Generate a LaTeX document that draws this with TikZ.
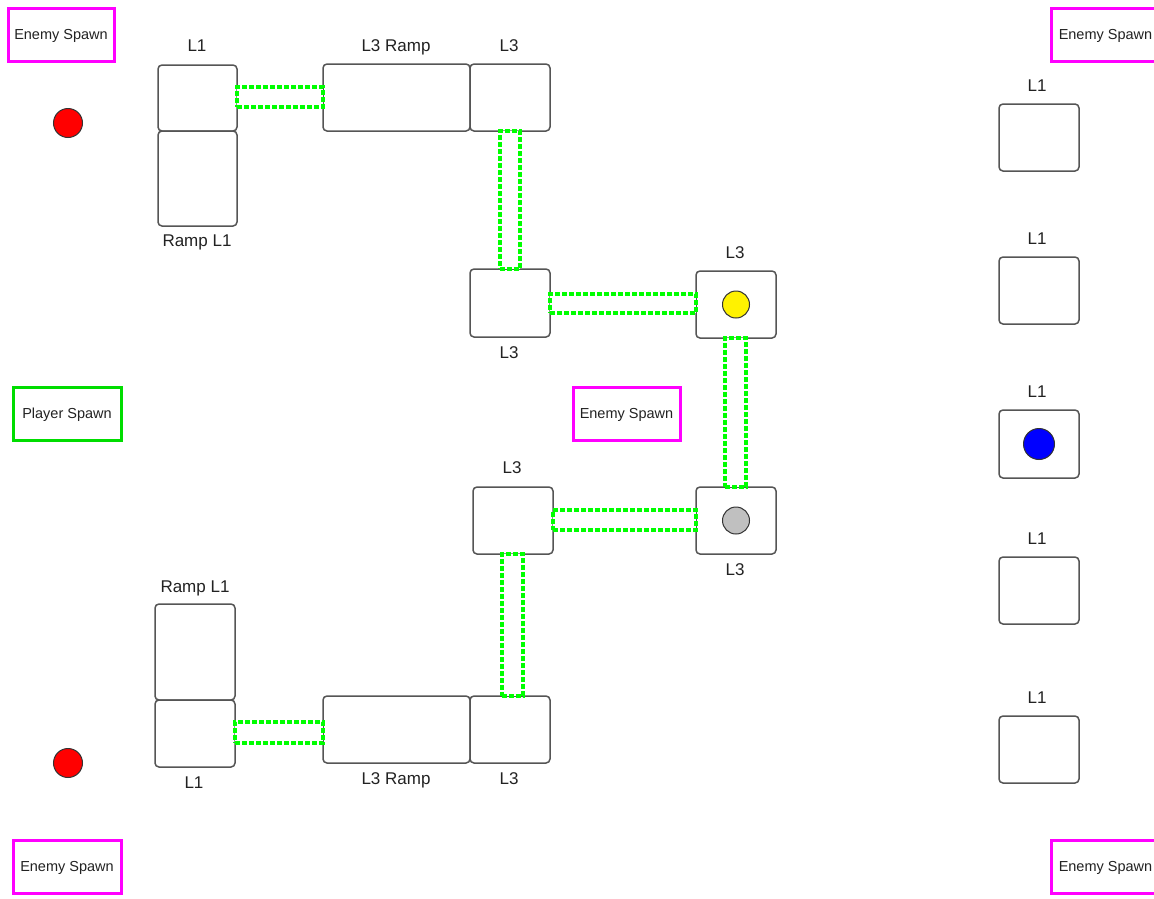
\documentclass[tikz,border=0pt]{standalone}
\usepackage{fontspec}
\setmainfont{Liberation Sans}
\definecolor{boxline}{HTML}{555555}
\definecolor{txt}{HTML}{222222}
\definecolor{bridgegreen}{HTML}{00FF00}
\definecolor{spawnmag}{HTML}{FF00FF}
\definecolor{spawngreen}{HTML}{00DD00}
\definecolor{dotgray}{HTML}{C0C0C0}
\tikzset{
  sz/.style 2 args={minimum width=#1, minimum height=#2, inner sep=0pt, outer sep=0pt},
  room/.style={draw=boxline, line width=1.5pt, fill=white, rounded corners=4pt},
  bridge/.style={draw=bridgegreen, line width=3.1pt, dash pattern=on 5pt off 2pt, fill=white},
  spawn/.style={draw=#1, line width=3pt, fill=white, text=txt, font=\fontsize{14.5}{16}\selectfont, inner sep=0pt, minimum height=53, text depth=0pt},
  lbl/.style={text=txt, font=\fontsize{17}{19}\selectfont, inner sep=0pt, text depth=0pt},
  dot/.style={circle, draw=black!80, line width=1pt, fill=#1, inner sep=0pt},
}
\begin{document}
\begin{tikzpicture}[x=1pt,y=-1pt]
\clip (0,0) rectangle (1154,898);
\fill[white] (0,0) rectangle (1154,898);
% spawns
\node[spawn=spawnmag, minimum width=106] (es1) at (61,34.5) {Enemy Spawn};
\node[spawn=spawnmag, minimum width=109] (es2) at (1105.5,34.5) {Enemy Spawn};
\node[spawn=spawngreen, minimum width=108] (ps) at (67,413.5) {Player Spawn};
\node[spawn=spawnmag, minimum width=107] (es3) at (626.5,413.5) {Enemy Spawn};
\node[spawn=spawnmag, minimum width=108] (es4) at (67,866.5) {Enemy Spawn};
\node[spawn=spawnmag, minimum width=109] (es5) at (1105.5,866.5) {Enemy Spawn};
% red markers
\node[dot=red, minimum size=29] (red1) at (68,123) {};
\node[dot=red, minimum size=29] (red2) at (68,763) {};
% rooms top-left
\node[room, sz={79}{66}] (tl1) at (197.5,98) {};
\node[room, sz={79}{95}] (tramp) at (197.5,178.5) {};
\node[room, sz={147}{67}] (tl3r) at (396.5,97.5) {};
\node[room, sz={80}{67}] (tl3) at (510,97.5) {};
\node[room, sz={80}{68}] (ml3) at (510,303) {};
\node[room, sz={80}{67}] (yl3) at (736,304.5) {};
\node[room, sz={80}{67}] (gl3) at (736,520.5) {};
\node[room, sz={80}{67}] (bl3a) at (513,520.5) {};
\node[room, sz={147}{67}] (bl3r) at (396.5,729.5) {};
\node[room, sz={80}{67}] (bl3) at (510,729.5) {};
\node[room, sz={80}{96}] (bramp) at (195,652) {};
\node[room, sz={80}{67}] (bl1) at (195,733.5) {};
% right column
\node[room, sz={80}{67}] (r1) at (1039,137.5) {};
\node[room, sz={80}{67}] (r2) at (1039,290.5) {};
\node[room, sz={80}{68}] (r3) at (1039,444) {};
\node[room, sz={80}{67}] (r4) at (1039,590.5) {};
\node[room, sz={80}{67}] (r5) at (1039,749.5) {};
% markers in rooms
\node[dot=yellow, minimum size=27] (yel) at (yl3.center) {};
\node[dot=dotgray, minimum size=27] (gry) at (gl3.center) {};
\node[dot=blue, minimum size=31] (blu) at (r3.center) {};
% bridges
\node[bridge, sz={86}{20}] (b1) at (280,97) {};
\node[bridge, sz={20}{138}] (v1) at (510,200) {};
\node[bridge, sz={146}{19}] (b2) at (623,303.5) {};
\node[bridge, sz={21}{149}] (v2) at (735.5,412.5) {};
\node[bridge, sz={143}{20}] (b3) at (624.5,520) {};
\node[bridge, sz={21}{142}] (v3) at (512.5,625) {};
\node[bridge, sz={88}{21}] (b4) at (279,732.5) {};
% labels
\node[lbl] (t1) at (197,46) {L1};
\node[lbl] (t2) at (396,46) {L3 Ramp};
\node[lbl] (t3) at (509,46) {L3};
\node[lbl] (t4) at (197,241) {Ramp L1};
\node[lbl] (t5) at (509,353) {L3};
\node[lbl] (t6) at (735,253) {L3};
\node[lbl] (t7) at (512,468) {L3};
\node[lbl] (t8) at (735,570) {L3};
\node[lbl] (t9) at (195,587) {Ramp L1};
\node[lbl] (t10) at (194,783) {L1};
\node[lbl] (t11) at (396,779) {L3 Ramp};
\node[lbl] (t12) at (509,779) {L3};
\node[lbl] (t13) at (1037,86) {L1};
\node[lbl] (t14) at (1037,239) {L1};
\node[lbl] (t15) at (1037,392) {L1};
\node[lbl] (t16) at (1037,539) {L1};
\node[lbl] (t17) at (1037,698) {L1};
\end{tikzpicture}
\end{document}
